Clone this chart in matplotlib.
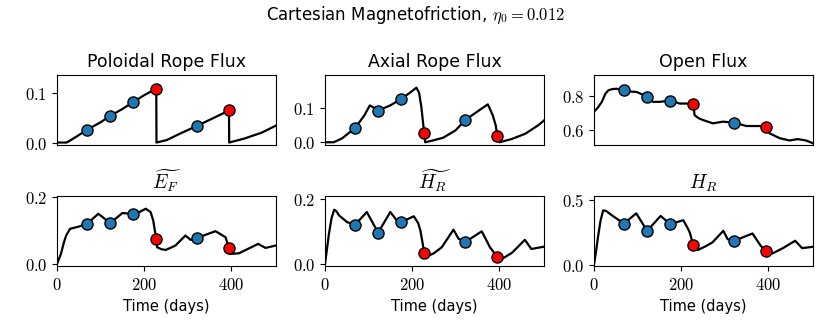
import numpy as np
import matplotlib
matplotlib.use("Agg")
import matplotlib.pyplot as plt
from matplotlib.ticker import FuncFormatter

plt.rcParams["mathtext.fontset"] = "cm"
plt.rcParams["font.family"] = "DejaVu Sans"

# times of the eruption markers (days)
blue_t = [69, 122, 175, 322]
red_t = [228, 395]

# poloidal rope flux
pol_t = [0, 22, 30, 50, 69, 100, 122, 150, 175, 200, 228, 228.5, 252, 280, 322, 360, 395, 395.5, 430, 470, 502]
pol_v = [0, 0, 0.004, 0.015, 0.026, 0.041, 0.054, 0.068, 0.082, 0.096, 0.109, 0.0, 0.005, 0.017, 0.034, 0.05, 0.065, 0.0, 0.008, 0.02, 0.034]
pol_blue = [0.026, 0.054, 0.082, 0.034]
pol_red = [0.109, 0.065]

# axial rope flux
ax_t = [0, 20, 40, 69, 90, 103, 122, 150, 175, 195, 210, 216, 221, 225, 228, 230, 250, 271, 300, 322, 350, 374, 385, 392, 396, 401, 430, 460, 490, 506]
ax_v = [0, 0, 0.012, 0.042, 0.078, 0.108, 0.093, 0.108, 0.127, 0.145, 0.16, 0.145, 0.106, 0.06, 0.026, 0.0, 0.006, 0.013, 0.035, 0.065, 0.09, 0.111, 0.08, 0.05, 0.018, 0.0, 0.01, 0.025, 0.05, 0.067]
ax_blue = [0.042, 0.093, 0.127, 0.065]
ax_red = [0.026, 0.018]

# open flux
op_t = [0, 8, 18, 26, 33, 42, 52, 69, 85, 98, 110, 121, 130, 136, 151, 175, 197, 215, 228, 231, 240, 250, 273, 296, 322, 350, 380, 395, 403, 426, 449, 468, 487, 502]
op_v = [0.708, 0.73, 0.767, 0.815, 0.836, 0.843, 0.845, 0.835, 0.828, 0.826, 0.812, 0.796, 0.775, 0.767, 0.767, 0.775, 0.757, 0.757, 0.755, 0.688, 0.67, 0.659, 0.639, 0.649, 0.643, 0.623, 0.623, 0.616, 0.58, 0.551, 0.537, 0.545, 0.537, 0.521]
op_blue = [0.835, 0.796, 0.775, 0.643]
op_red = [0.755, 0.616]

# E_F tilde
ef_t = [0, 9, 16, 21, 30, 51, 69, 95, 122, 150, 175, 189, 204, 215, 221, 228, 230, 240, 250, 272, 295, 307, 322, 364, 387, 395, 397, 418, 462, 479, 502]
ef_v = [0, 0.03, 0.065, 0.085, 0.105, 0.112, 0.12, 0.15, 0.122, 0.152, 0.15, 0.155, 0.165, 0.155, 0.13, 0.074, 0.05, 0.044, 0.042, 0.055, 0.085, 0.072, 0.078, 0.098, 0.08, 0.048, 0.03, 0.032, 0.06, 0.048, 0.055]
ef_blue = [0.12, 0.122, 0.15, 0.078]
ef_red = [0.074, 0.048]

# H_R tilde
hrt_t = [0, 5, 9, 15, 21, 26, 32, 51, 69, 96, 122, 150, 165, 175, 204, 214, 219, 228, 234, 250, 268, 295, 307, 322, 360, 379, 395, 406, 430, 459, 474, 503]
hrt_v = [0, 0.05, 0.092, 0.14, 0.166, 0.162, 0.149, 0.128, 0.12, 0.159, 0.096, 0.159, 0.133, 0.128, 0.146, 0.125, 0.103, 0.035, 0.023, 0.033, 0.051, 0.105, 0.077, 0.067, 0.1, 0.051, 0.023, 0.015, 0.035, 0.074, 0.046, 0.053]
hrt_blue = [0.12, 0.096, 0.128, 0.067]
hrt_red = [0.035, 0.023]

# H_R
hr_t = [0, 5, 9, 15, 21, 28, 43, 69, 97, 122, 153, 175, 205, 214, 220, 228, 238, 255, 272, 297, 307, 322, 364, 383, 395, 410, 435, 462, 478, 502]
hr_v = [0, 0.11, 0.21, 0.34, 0.42, 0.415, 0.377, 0.318, 0.397, 0.262, 0.377, 0.313, 0.344, 0.29, 0.249, 0.151, 0.113, 0.14, 0.172, 0.262, 0.197, 0.185, 0.241, 0.146, 0.103, 0.087, 0.13, 0.185, 0.128, 0.138]
hr_blue = [0.318, 0.262, 0.313, 0.185]
hr_red = [0.151, 0.103]

panels = [
    ("Poloidal Rope Flux", pol_t, pol_v, pol_blue, pol_red, (-0.005, 0.137), [0, 0.1]),
    ("Axial Rope Flux", ax_t, ax_v, ax_blue, ax_red, (-0.008, 0.197), [0, 0.1]),
    ("Open Flux", op_t, op_v, op_blue, op_red, (0.51, 0.927), [0.6, 0.8]),
    (r"$\widetilde{E_F}$", ef_t, ef_v, ef_blue, ef_red, (-0.006, 0.203), [0, 0.2]),
    (r"$\widetilde{H_R}$", hrt_t, hrt_v, hrt_blue, hrt_red, (-0.006, 0.208), [0, 0.2]),
    (r"$H_R$", hr_t, hr_v, hr_blue, hr_red, (-0.01, 0.531), [0, 0.5]),
]

W, H = 831, 332
fig = plt.figure(figsize=(W / 100, H / 100), dpi=100)
lefts = [57, 325, 594]
tops = [75, 196]
aw, ah = 219, 70

for i, (title, t, v, vb, vr, ylim, yt) in enumerate(panels):
    row, col = divmod(i, 3)
    ax = fig.add_axes([lefts[col] / W, 1 - (tops[row] + ah) / H, aw / W, ah / H])
    ax.plot(t, v, color="black", lw=1.6, zorder=2)
    ax.plot(blue_t, vb, "o", ms=8, mfc="#1f77b4", mec="black", mew=1.0, zorder=3)
    ax.plot(red_t, vr, "o", ms=8, mfc="red", mec="black", mew=1.0, zorder=3)
    ax.set_xlim(0, 503)
    ax.set_ylim(*ylim)
    ax.set_yticks(yt)
    ax.yaxis.set_major_formatter(FuncFormatter(lambda y, p: "$%.1f$" % y))
    if row == 0:
        ax.set_title(title, fontsize=12.5, pad=6)
        ax.set_xticks([])
    else:
        ax.set_title(title, fontsize=14, pad=5)
        ax.set_xticks([0, 200, 400])
        ax.xaxis.set_major_formatter(FuncFormatter(lambda x, p: "$%d$" % x))
        ax.set_xlabel("Time (days)", fontsize=10.5)
    ax.tick_params(labelsize=12)

fig.suptitle(r"Cartesian Magnetofriction, $\eta_0 = 0.012$", fontsize=12, y=0.985)
fig.savefig("out.png", dpi=100)
